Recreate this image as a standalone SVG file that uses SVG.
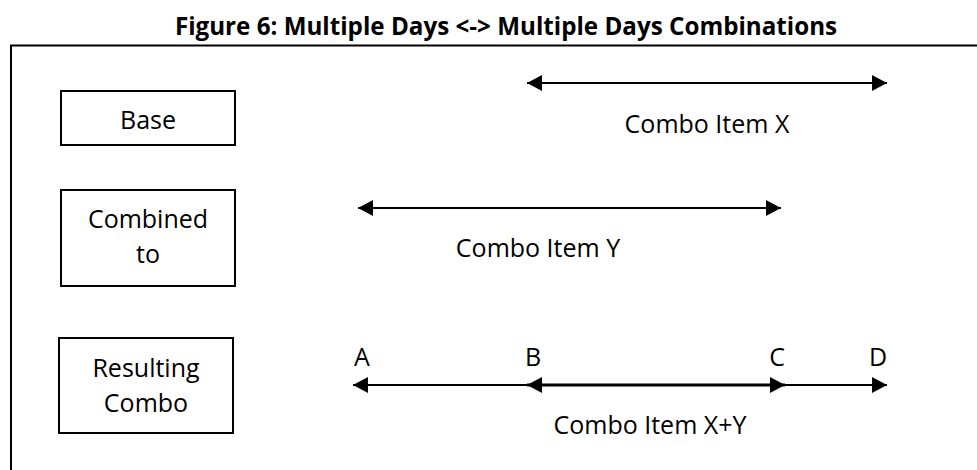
<svg xmlns="http://www.w3.org/2000/svg" width="977" height="470" viewBox="0 0 977 470">
  <defs>
    <style>
      text { font-family: "Open Sans", "Noto Sans", "Liberation Sans", sans-serif; fill: #000; }
      .title { font-size: 24.2px; font-weight: bold; }
      .lbl { font-size: 25px; }
      .box { fill: #fff; stroke: #000; stroke-width: 2; }
      .span { stroke: #000; stroke-width: 2; fill: none; }
      .span-thick { stroke: #000; stroke-width: 3; fill: none; }
    </style>
    <marker id="head-end" markerUnits="userSpaceOnUse" markerWidth="16" markerHeight="17" refX="15" refY="8.5" orient="auto" viewBox="0 0 16 17">
      <path d="M0,0.5 L15,8.5 L0,16.5 Z" fill="#000"/>
    </marker>
    <marker id="head-start" markerUnits="userSpaceOnUse" markerWidth="16" markerHeight="17" refX="0" refY="8.5" orient="auto" viewBox="0 0 16 17">
      <path d="M15,0.5 L0,8.5 L15,16.5 Z" fill="#000"/>
    </marker>
  </defs>

  <rect width="977" height="470" fill="#fff"/>

  <text class="title" x="506" y="35" text-anchor="middle">Figure 6: Multiple Days &lt;-&gt; Multiple Days Combinations</text>

  <!-- outer frame (top and left edges) -->
  <path d="M11,470 V45.5 H977" fill="none" stroke="#000" stroke-width="2"/>

  <g id="base">
    <rect class="box" x="61" y="91" width="174" height="54"/>
    <text class="lbl" x="148" y="129" text-anchor="middle">Base</text>
  </g>

  <g id="combined-to">
    <rect class="box" x="61" y="190" width="174" height="96"/>
    <text class="lbl" x="148" y="228" text-anchor="middle">Combined</text>
    <text class="lbl" x="148" y="263" text-anchor="middle">to</text>
  </g>

  <g id="resulting-combo">
    <rect class="box" x="59" y="338" width="174" height="95"/>
    <text class="lbl" x="146" y="377" text-anchor="middle">Resulting</text>
    <text class="lbl" x="146" y="412" text-anchor="middle">Combo</text>
  </g>

  <g id="connectors">
    <!-- item X -->
    <line class="span" x1="527" y1="83" x2="887" y2="83" marker-start="url(#head-start)" marker-end="url(#head-end)"/>
    <!-- item Y -->
    <line class="span" x1="358" y1="208" x2="781" y2="208" marker-start="url(#head-start)" marker-end="url(#head-end)"/>
    <!-- combined X+Y, A to D -->
    <line class="span" x1="353" y1="385" x2="887" y2="385" marker-start="url(#head-start)" marker-end="url(#head-end)"/>
    <!-- overlap B to C -->
    <line class="span-thick" x1="527" y1="385" x2="785" y2="385" marker-start="url(#head-start)" marker-end="url(#head-end)"/>
  </g>

  <g id="labels">
    <text class="lbl" x="707" y="133" text-anchor="middle">Combo Item X</text>
    <text class="lbl" x="538" y="257" text-anchor="middle">Combo Item Y</text>
    <text class="lbl" x="362" y="366" text-anchor="middle">A</text>
    <text class="lbl" x="533" y="366" text-anchor="middle">B</text>
    <text class="lbl" x="777" y="366" text-anchor="middle">C</text>
    <text class="lbl" x="878" y="366" text-anchor="middle">D</text>
    <text class="lbl" x="650" y="434" text-anchor="middle">Combo Item X+Y</text>
  </g>
</svg>
